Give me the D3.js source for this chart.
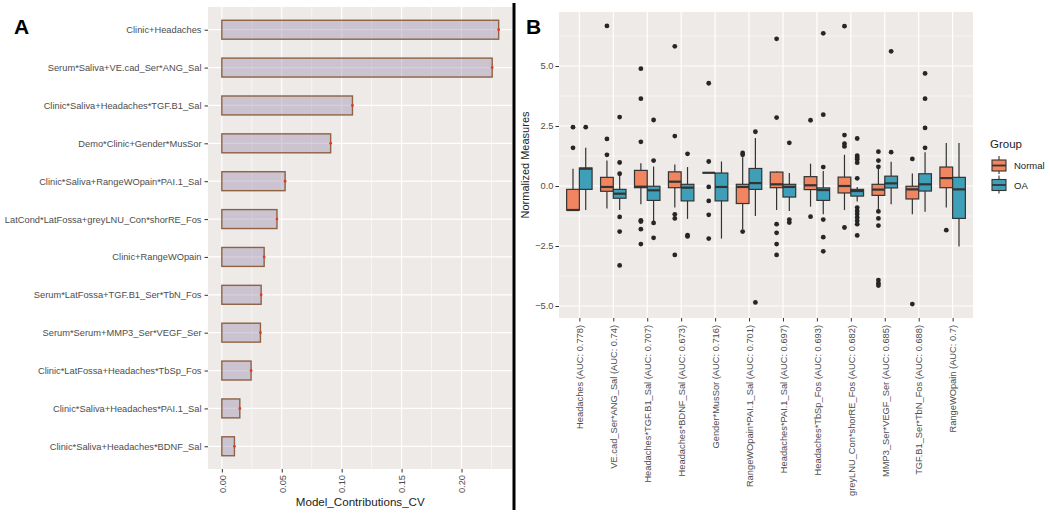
<!DOCTYPE html>
<html><head><meta charset="utf-8">
<script src="https://cdn.jsdelivr.net/npm/d3@7"></script>
<style>
body{margin:0;background:#fff;}
svg text{font-family:"Liberation Sans",Arial,Helvetica,sans-serif;}
</style></head>
<body><svg id="c" width="1050" height="517"></svg>
<script>
// ---------- Panel A data ----------
const modelNames = [
  "Clinic+Headaches",
  "Serum*Saliva+VE.cad_Ser*ANG_Sal",
  "Clinic*Saliva+Headaches*TGF.B1_Sal",
  "Demo*Clinic+Gender*MusSor",
  "Clinic*Saliva+RangeWOpain*PAI.1_Sal",
  "LatCond*LatFossa+greyLNU_Con*shorRE_Fos",
  "Clinic+RangeWOpain",
  "Serum*LatFossa+TGF.B1_Ser*TbN_Fos",
  "Serum*Serum+MMP3_Ser*VEGF_Ser",
  "Clinic*LatFossa+Headaches*TbSp_Fos",
  "Clinic*Saliva+Headaches*PAI.1_Sal",
  "Clinic*Saliva+Headaches*BDNF_Sal"
];
const modelValues = [0.231, 0.2256, 0.109, 0.0908, 0.0528, 0.046, 0.0353, 0.0328, 0.0322, 0.0244, 0.015, 0.0105];
const xTicksA = [0, 0.05, 0.10, 0.15, 0.20];

// ---------- Panel B data ----------
const featureLabels = [
  "Headaches (AUC: 0.778)",
  "VE.cad_Ser*ANG_Sal (AUC: 0.74)",
  "Headaches*TGF.B1_Sal (AUC: 0.707)",
  "Headaches*BDNF_Sal (AUC: 0.673)",
  "Gender*MusSor (AUC: 0.716)",
  "RangeWOpain*PAI.1_Sal (AUC: 0.701)",
  "Headaches*PAI.1_Sal (AUC: 0.697)",
  "Headaches*TbSp_Fos (AUC: 0.693)",
  "greyLNU_Con*shorRE_Fos (AUC: 0.682)",
  "MMP3_Ser*VEGF_Ser (AUC: 0.685)",
  "TGF.B1_Ser*TbN_Fos (AUC: 0.688)",
  "RangeWOpain (AUC: 0.7)"
];
const groups = ["Normal", "OA"];
const groupColors = ["#f0855f", "#409fb8"];
// [lowerWhisker, Q1, median, Q3, upperWhisker]
const normalStats = [
  [-1.0, -1.0, -1.0, -0.14, 0.72],
  [-0.94, -0.22, -0.04, 0.36, 1.06],
  [-0.76, -0.07, -0.03, 0.65, 0.95],
  [-0.90, -0.07, 0.18, 0.59, 0.90],
  [0.55, 0.55, 0.55, 0.55, 0.55],
  [-1.80, -0.73, -0.04, 0.07, 1.20],
  [-1.0, -0.07, 0.07, 0.58, 0.60],
  [-0.86, -0.15, 0.03, 0.39, 0.93],
  [-1.0, -0.29, 0.0, 0.37, 1.30],
  [-1.04, -0.39, -0.15, 0.07, 0.76],
  [-1.18, -0.54, -0.14, -0.01, 0.52],
  [-0.90, -0.07, 0.33, 0.79, 1.79]
];
const oaStats = [
  [-1.0, -0.14, 0.72, 0.75, 1.59],
  [-1.0, -0.51, -0.32, -0.14, 0.43],
  [-1.54, -0.60, -0.18, -0.01, 0.81],
  [-1.37, -0.62, -0.07, 0.07, 0.79],
  [-2.19, -0.62, -0.04, 0.54, 1.02],
  [-1.25, -0.14, 0.12, 0.73, 2.0],
  [-1.04, -0.46, -0.04, 0.07, 0.54],
  [-1.18, -0.60, -0.17, -0.08, 0.62],
  [-0.65, -0.42, -0.21, -0.14, -0.04],
  [-0.76, -0.08, 0.11, 0.41, 1.01],
  [-1.07, -0.21, 0.07, 0.51, 1.41],
  [-2.52, -1.35, -0.14, 0.36, 1.79]
];
const normalOutliers = [
  [2.45, 1.59],
  [6.67, 1.96, 1.30],
  [4.89, 3.64, 1.84, -1.43, -1.48, -1.80, -2.42],
  [5.82, 2.08, -1.18, -1.35, -2.87],
  [4.28, 1.02, -0.04, -0.62, -1.20, -2.19],
  [1.38, 1.30, -1.90],
  [6.13, 2.85, -1.59, -1.95, -2.42, -2.87],
  [2.74, -1.28],
  [6.66, 2.12, 1.76, 1.65, -1.73],
  [1.43, 1.06, 0.80, -1.06, -1.35, -1.65, -3.92, -4.05, -4.15],
  [1.13, -4.92],
  [-1.84]
];
const oaOutliers = [
  [2.45],
  [2.87, 0.98, 0.51, -1.29, -1.90, -3.31],
  [2.75, 1.06, -1.54, -2.16],
  [1.34, -2.05, -2.10],
  [],
  [2.26, -4.85],
  [1.80, -1.40, -1.52],
  [6.36, 2.97, 0.79, -1.40, -2.13, -2.72],
  [1.98, 1.26, 1.18, 1.10, 0.97, 0.32, -0.90, -1.04, -1.17, -1.31, -1.45, -1.59, -2.06],
  [5.61, 1.41],
  [4.69, 3.64, 2.42, 1.59],
  []
];
const yTicksB = [-5, -2.5, 0, 2.5, 5];

// ---------- drawing ----------
const svg = d3.select("#c");
svg.append("rect").attr("width",1050).attr("height",517).attr("fill","#fff");
const panelBg = "#edeae8", gridCol = "#ffffff", txtCol = "#4d4d4d";
const labFont = "9.3px";

// ===== Panel A =====
const A = {l:208, r:512.5, t:7, b:469};
const aMax = d3.max(modelValues), aExp = aMax*0.05;
const xA = d3.scaleLinear().domain([-aExp, aMax+aExp]).range([A.l, A.r]);
const yA = d3.scalePoint().domain(modelNames).range([A.t, A.b]).padding(0.6);
const gA = svg.append("g");
gA.append("rect").attr("x",A.l).attr("y",A.t).attr("width",A.r-A.l).attr("height",A.b-A.t).attr("fill",panelBg);
const minorA = d3.range(0.025, aMax+aExp, 0.05);
gA.selectAll(".mnA").data(minorA).join("line")
  .attr("x1",d=>xA(d)).attr("x2",d=>xA(d)).attr("y1",A.t).attr("y2",A.b)
  .attr("stroke",gridCol).attr("stroke-width",0.6);
gA.selectAll(".mjA").data(xTicksA).join("line")
  .attr("x1",d=>xA(d)).attr("x2",d=>xA(d)).attr("y1",A.t).attr("y2",A.b)
  .attr("stroke",gridCol).attr("stroke-width",1.2);
gA.selectAll(".hA").data(modelNames).join("line")
  .attr("x1",A.l).attr("x2",A.r).attr("y1",d=>yA(d)).attr("y2",d=>yA(d))
  .attr("stroke",gridCol).attr("stroke-width",1.2);
const bwA = yA.step()*0.5;
gA.selectAll(".barA").data(modelNames).join("rect")
  .attr("x",xA(0)).attr("y",d=>yA(d)-bwA/2)
  .attr("width",(d,i)=>xA(modelValues[i])-xA(0)).attr("height",bwA)
  .attr("fill","rgba(165,148,180,0.45)").attr("stroke","#8e6243").attr("stroke-width",1.4);
gA.selectAll(".dotA").data(modelNames).join("circle")
  .attr("cx",(d,i)=>xA(modelValues[i])).attr("cy",d=>yA(d)).attr("r",1.4)
  .attr("fill","#ee3322");
// axes A
const axA = d3.axisBottom(xA).tickValues(xTicksA).tickFormat(d3.format(".2f")).tickSize(3.5).tickPadding(2);
const gxA = gA.append("g").attr("transform",`translate(0,${A.b})`).call(axA);
gxA.select(".domain").remove();
gxA.selectAll(".tick line").attr("stroke","#333");
gxA.selectAll(".tick text").attr("fill",txtCol).style("font-size",labFont)
  .attr("transform","rotate(-90)").attr("text-anchor","end").attr("x",-6).attr("y",0).attr("dy","0.35em");
const ayA = d3.axisLeft(yA).tickSize(3.5).tickPadding(3);
const gyA = gA.append("g").attr("transform",`translate(${A.l},0)`).call(ayA);
gyA.select(".domain").remove();
gyA.selectAll(".tick line").attr("stroke","#333");
gyA.selectAll(".tick text").attr("fill",txtCol).style("font-size",labFont);
gA.append("text").attr("x",(A.l+A.r)/2).attr("y",506).attr("text-anchor","middle")
  .style("font-size","11.6px").attr("fill","#222").text("Model_Contributions_CV");
svg.append("text").attr("x",14).attr("y",34).style("font-size","21px").style("font-weight","bold").attr("fill","#000").text("A");

// divider
svg.append("line").attr("x1",514).attr("x2",514).attr("y1",3).attr("y2",510).attr("stroke","#000").attr("stroke-width",3);

// ===== Panel B =====
const B = {l:559, r:973, t:12, b:318};
const allVals = [];
normalStats.concat(oaStats).forEach(s=>allVals.push(...s));
normalOutliers.concat(oaOutliers).forEach(s=>allVals.push(...s));
const bMin = d3.min(allVals), bMax = d3.max(allVals), bExp = (bMax-bMin)*0.05;
const yB = d3.scaleLinear().domain([bMin-bExp, bMax+bExp]).range([B.b, B.t]);
const xB = d3.scalePoint().domain(featureLabels).range([B.l, B.r]).padding(0.6);
const gB = svg.append("g");
gB.append("rect").attr("x",B.l).attr("y",B.t).attr("width",B.r-B.l).attr("height",B.b-B.t).attr("fill",panelBg);
const minorB = d3.range(-6.25, bMax+bExp, 2.5).filter(v=>v>bMin-bExp);
gB.selectAll(".mnB").data(minorB).join("line")
  .attr("x1",B.l).attr("x2",B.r).attr("y1",d=>yB(d)).attr("y2",d=>yB(d))
  .attr("stroke",gridCol).attr("stroke-width",0.6);
gB.selectAll(".mjB").data(yTicksB).join("line")
  .attr("x1",B.l).attr("x2",B.r).attr("y1",d=>yB(d)).attr("y2",d=>yB(d))
  .attr("stroke",gridCol).attr("stroke-width",1.2);
gB.selectAll(".vB").data(featureLabels).join("line")
  .attr("x1",d=>xB(d)).attr("x2",d=>xB(d)).attr("y1",B.t).attr("y2",B.b)
  .attr("stroke",gridCol).attr("stroke-width",1.2);

const stepB = xB.step(), boxW = stepB*0.375;
const xGroup = d3.scaleBand().domain(groups).range([-stepB*0.375, stepB*0.375]);
const statSets = [normalStats, oaStats], outSets = [normalOutliers, oaOutliers];
groups.forEach((g,gi)=>{
  featureLabels.forEach((f,i)=>{
    const s = statSets[gi][i];
    const cx = xB(f) + xGroup(g) + xGroup.bandwidth()/2;
    const bx = gB.append("g");
    bx.append("line").attr("x1",cx).attr("x2",cx).attr("y1",yB(s[4])).attr("y2",yB(s[3]))
      .attr("stroke","#333").attr("stroke-width",1.2);
    bx.append("line").attr("x1",cx).attr("x2",cx).attr("y1",yB(s[1])).attr("y2",yB(s[0]))
      .attr("stroke","#333").attr("stroke-width",1.2);
    bx.append("rect").attr("x",cx-boxW/2).attr("y",yB(s[3])).attr("width",boxW)
      .attr("height",Math.max(0,yB(s[1])-yB(s[3])))
      .attr("fill",groupColors[gi]).attr("stroke","#333").attr("stroke-width",1.2);
    bx.append("line").attr("x1",cx-boxW/2).attr("x2",cx+boxW/2).attr("y1",yB(s[2])).attr("y2",yB(s[2]))
      .attr("stroke","#333").attr("stroke-width",2.2);
    bx.selectAll("circle").data(outSets[gi][i]).join("circle")
      .attr("cx",cx).attr("cy",d=>yB(d)).attr("r",2.4).attr("fill","#262626");
  });
});
// axes B
const ayB = d3.axisLeft(yB).tickValues(yTicksB).tickFormat(d3.format(".1f")).tickSize(3.5).tickPadding(2);
const gyB = gB.append("g").attr("transform",`translate(${B.l},0)`).call(ayB);
gyB.select(".domain").remove();
gyB.selectAll(".tick line").attr("stroke","#333");
gyB.selectAll(".tick text").attr("fill",txtCol).style("font-size",labFont);
const axB = d3.axisBottom(xB).tickSize(3.5);
const gxB = gB.append("g").attr("transform",`translate(0,${B.b})`).call(axB);
gxB.select(".domain").remove();
gxB.selectAll(".tick line").attr("stroke","#333");
gxB.selectAll(".tick text").attr("fill",txtCol).style("font-size",labFont)
  .attr("transform","rotate(-90)").attr("text-anchor","end").attr("x",-7).attr("y",0).attr("dy","0.35em");
gB.append("text").attr("transform",`translate(529,${(B.t+B.b)/2}) rotate(-90)`).attr("text-anchor","middle")
  .style("font-size","11px").attr("fill","#222").text("Normalized Measures");
svg.append("text").attr("x",526).attr("y",34).style("font-size","21px").style("font-weight","bold").attr("fill","#000").text("B");

// legend
const lg = svg.append("g").attr("transform","translate(990,0)");
lg.append("text").attr("x",0).attr("y",148).style("font-size","11.5px").attr("fill","#222").text("Group");
groups.forEach((g,gi)=>{
  const y0 = 157 + gi*19.5;
  const k = lg.append("g");
  k.append("line").attr("x1",9).attr("x2",9).attr("y1",y0-1).attr("y2",y0+17).attr("stroke","#333").attr("stroke-width",1.1);
  k.append("rect").attr("x",2).attr("y",y0+3).attr("width",14).attr("height",11)
    .attr("fill",groupColors[gi]).attr("stroke","#333").attr("stroke-width",1.1);
  k.append("line").attr("x1",2).attr("x2",16).attr("y1",y0+8.5).attr("y2",y0+8.5).attr("stroke","#333").attr("stroke-width",1.8);
  lg.append("text").attr("x",24).attr("y",y0+12).style("font-size","9.5px").attr("fill","#222").text(g);
});
</script></body></html>
